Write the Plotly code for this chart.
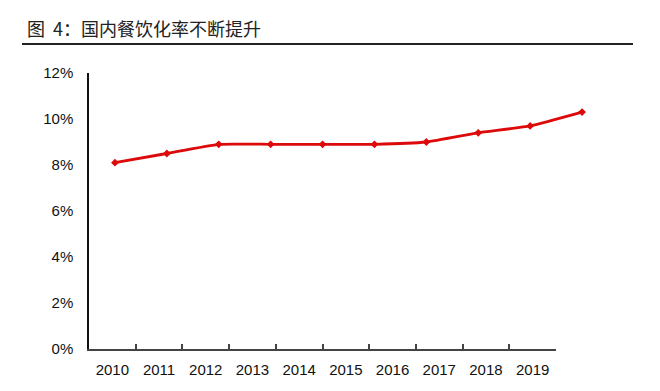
import plotly.graph_objects as go

years = ["2010", "2011", "2012", "2013", "2014", "2015", "2016", "2017", "2018", "2019"]
rate = [8.1, 8.5, 8.9, 8.9, 8.9, 8.9, 9.0, 9.4, 9.7, 10.3]
title_text = "图  4：国内餐饮化率不断提升"

# page body has an 8px margin, so coordinates below are offset by -8
W, H = 644, 375
L, T = 81, 65
PR, PB = 600, 341       # plot area right/bottom edge
R, B = W - PR, H - PB
axis_end = 548

pw = PR - L
ph = PB - T
idx = list(range(len(years)))
bounds = [i + 0.5 for i in idx]

fig = go.Figure()
# holder for labels axis
fig.add_trace(go.Scatter(x=idx, y=[None] * len(years), xaxis="x", yaxis="y",
                         mode="lines", showlegend=False, hoverinfo="skip"))
# holder for boundary-tick axis
fig.add_trace(go.Scatter(x=bounds, y=[None] * len(bounds), xaxis="x3", yaxis="y",
                         mode="lines", showlegend=False, hoverinfo="skip"))
# series
fig.add_trace(go.Scatter(x=idx, y=rate, xaxis="x2", yaxis="y",
                         mode="lines+markers",
                         line=dict(color="#DC0A0A", width=2.8, shape="spline", smoothing=0.4),
                         marker=dict(symbol="diamond", size=6, color="#DC0A0A"),
                         showlegend=False))

xr = [-0.5, len(years) - 0.5]
xdom = [0, (axis_end - L) / pw]
fig.update_layout(
    template="none",
    width=W, height=H,
    margin=dict(l=L, r=R, t=T, b=B, autoexpand=False),
    paper_bgcolor="white", plot_bgcolor="rgba(0,0,0,0)",
    font=dict(family="Liberation Sans, Arial, sans-serif", size=15, color="#111"),
    xaxis=dict(domain=xdom, anchor="y", automargin=False,
               range=xr, showline=True, linecolor="#444", linewidth=1.5,
               tickmode="array", tickvals=idx, ticktext=years,
               ticks="", ticklabelstandoff=6,
               showgrid=False, zeroline=False, tickfont=dict(size=15, color="#111")),
    xaxis3=dict(domain=xdom, anchor="y", automargin=False, range=xr,
                tickmode="array", tickvals=bounds, ticks="inside", ticklen=5,
                tickwidth=1.5, tickcolor="#444", showticklabels=False,
                showline=False, showgrid=False, zeroline=False),
    xaxis2=dict(domain=[0, 1], anchor="y", range=xr, visible=False),
    yaxis=dict(range=[0, 12], dtick=2, ticksuffix="%", showline=True, linecolor="#111",
               linewidth=1.5, ticks="", showgrid=False, zeroline=False, automargin=False,
               tickfont=dict(size=15, color="#111"), ticklabelstandoff=11),
    shapes=[dict(type="line", xref="paper", yref="paper",
                 x0=(14 - L) / pw, x1=(625 - L) / pw,
                 y0=1 + (T - 36) / ph, y1=1 + (T - 36) / ph,
                 line=dict(color="#222", width=2))],
    annotations=[dict(text=title_text, xref="paper", yref="paper",
                      x=(17 - L) / pw, y=1 + (T - 20) / ph,
                      xanchor="left", yanchor="middle", showarrow=False,
                      font=dict(family="Noto Sans CJK SC, sans-serif", size=18, color="#222"))],
)

fig.write_html("out.html")
